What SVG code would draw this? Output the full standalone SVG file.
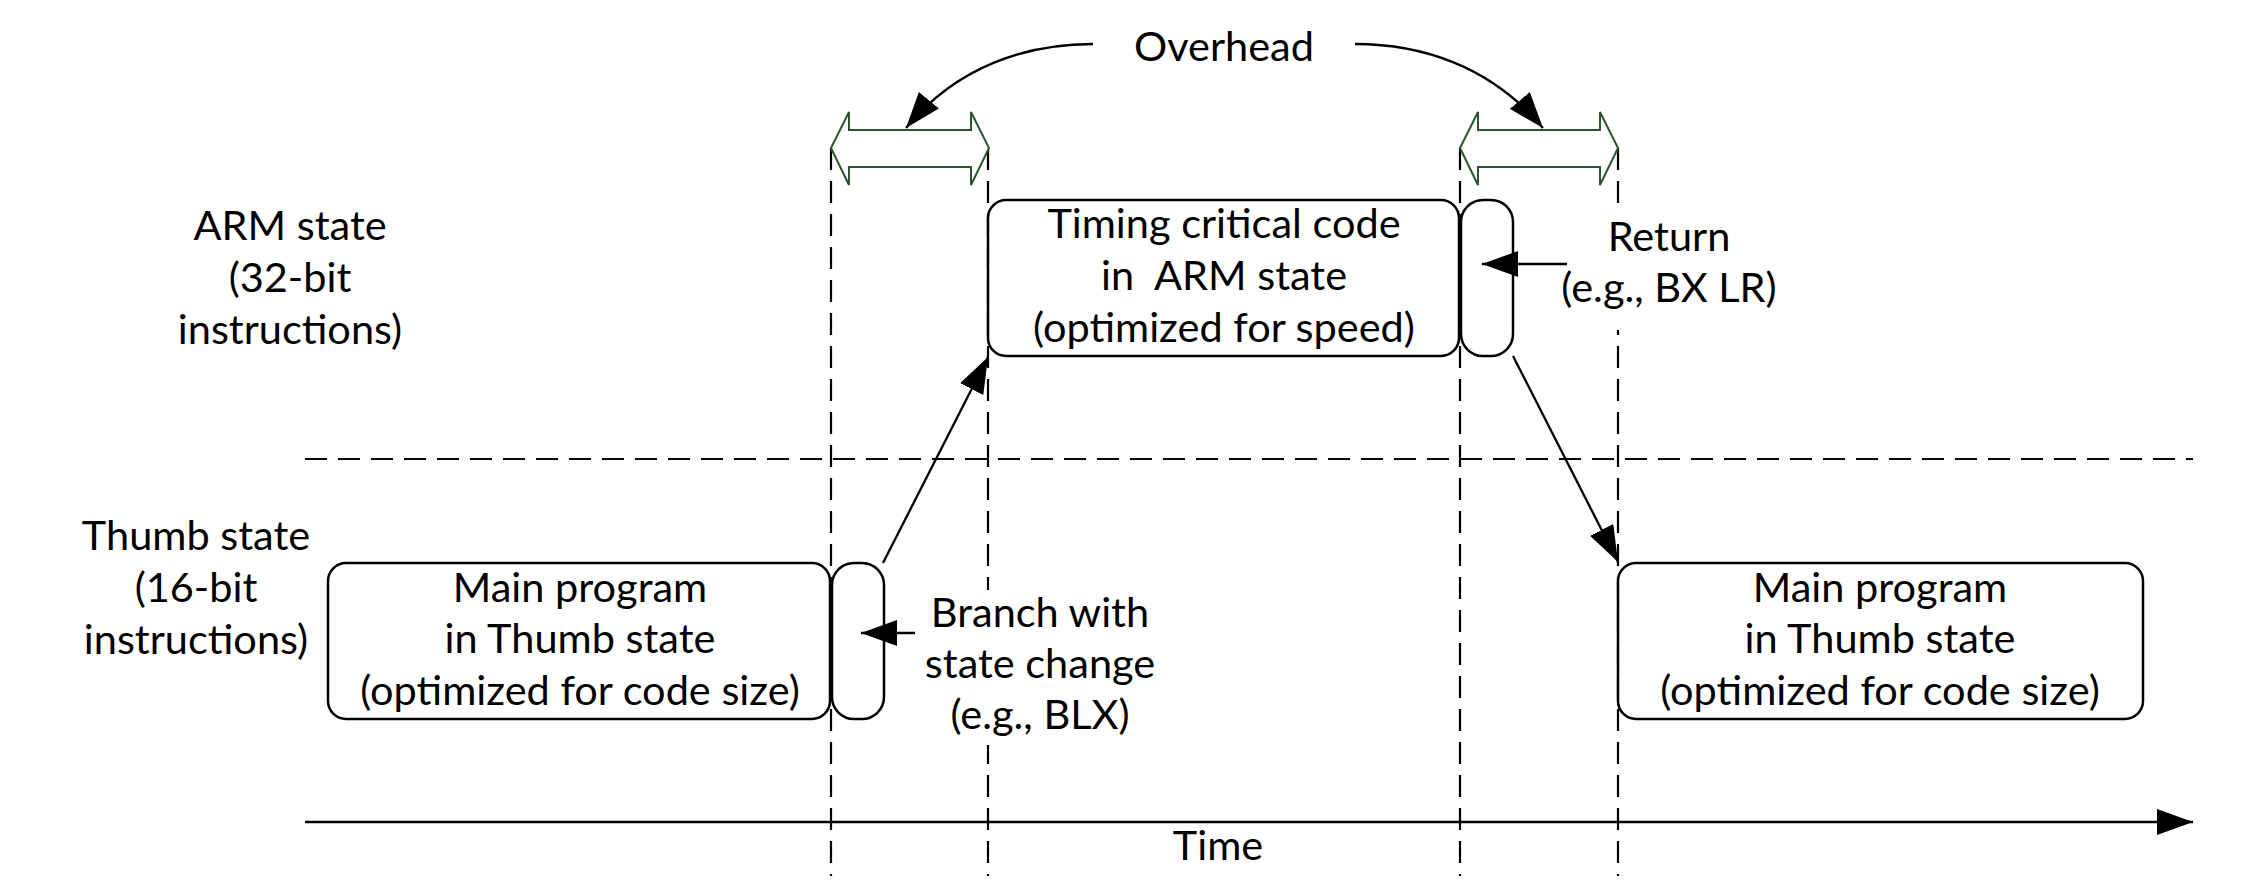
<svg xmlns="http://www.w3.org/2000/svg" width="2266" height="894" viewBox="0 0 2266 894">
<style>
.t{font-family:Lato,"Open Sans","Liberation Sans",sans-serif;font-size:41.5px;fill:#000;text-anchor:middle;white-space:pre}
.box{fill:#fff;stroke:#000;stroke-width:2.5}
.dash{stroke:#000;stroke-width:2.2;stroke-dasharray:22 11;fill:none}
.ln{stroke:#000;stroke-width:2.3;fill:none}
.dbl{fill:#fff;stroke:#2B5530;stroke-width:2}
.bg{fill:#fff}
</style>
<defs>
<marker id="ah" markerUnits="userSpaceOnUse" markerWidth="38" markerHeight="28" refX="36" refY="13" orient="auto">
<path d="M0,0 L36,13 L0,26 z" fill="#000"/>
</marker>
</defs>
<rect width="2266" height="894" fill="#fff"/>

<g id="guides">
<line class="dash" x1="305" y1="459" x2="2193" y2="459"/>
<line class="dash" x1="831" y1="148" x2="831" y2="876"/>
<line class="dash" x1="988" y1="148" x2="988" y2="876"/>
<line class="dash" x1="1460" y1="148" x2="1460" y2="876"/>
<line class="dash" x1="1618" y1="148" x2="1618" y2="876"/>
</g>

<g id="overhead-left">
<polygon class="dbl" points="831,148 849,112 849,130 971,130 971,112 989,148 971,185 971,167 849,167 849,185"/>
</g>
<g id="overhead-right">
<polygon class="dbl" points="1460,148 1478,112 1478,130 1600,130 1600,112 1618,148 1600,185 1600,167 1478,167 1478,185"/>
</g>

<g id="label-overhead">
<text class="t" x="1224" y="61">Overhead</text>
</g>

<g id="label-arm">
<text class="t" x="290" y="240">ARM state</text>
<text class="t" x="290" y="292">(32-bit</text>
<text class="t" x="290" y="344">instructions)</text>
</g>

<g id="label-thumb">
<text class="t" x="196" y="550">Thumb state</text>
<text class="t" x="196" y="602">(16-bit</text>
<text class="t" x="196" y="654">instructions)</text>
</g>

<g id="main-left">
<rect class="box" x="328" y="563" width="502" height="156" rx="18"/>
<text class="t" x="580" y="602">Main program</text>
<text class="t" x="580" y="653">in Thumb state</text>
<text class="t" x="580" y="705">(optimized for code size)</text>
</g>

<g id="branch-box">
<rect class="box" x="832" y="563" width="52" height="156" rx="22"/>
</g>

<g id="timing">
<rect class="box" x="988" y="200" width="471" height="156" rx="18"/>
<text class="t" x="1224" y="238">Timing critical code</text>
<text class="t" x="1224" y="290">in  ARM state</text>
<text class="t" x="1224" y="342">(optimized for speed)</text>
</g>

<g id="return-box">
<rect class="box" x="1461" y="200" width="52" height="156" rx="22"/>
</g>

<g id="main-right">
<rect class="box" x="1618" y="563" width="525" height="156" rx="18"/>
<text class="t" x="1880" y="602">Main program</text>
<text class="t" x="1880" y="653">in Thumb state</text>
<text class="t" x="1880" y="705">(optimized for code size)</text>
</g>

<g id="label-branch">
<rect class="bg" x="925" y="590" width="235" height="155"/>
<text class="t" x="1040" y="627">Branch with</text>
<text class="t" x="1040" y="678">state change</text>
<text class="t" x="1040" y="729">(e.g., BLX)</text>
</g>

<g id="label-return">
<rect class="bg" x="1560" y="203" width="222" height="127"/>
<text class="t" x="1669" y="251">Return</text>
<text class="t" x="1669" y="302">(e.g., BX LR)</text>
</g>

<g id="label-time">
<text class="t" x="1218" y="860">Time</text>
</g>

<g id="connectors">
<line class="ln" x1="305" y1="822" x2="2193" y2="822" stroke-width="2.6" marker-end="url(#ah)"/>
<path class="ln" d="M1093,44 C1028,44 958,65 906,128" marker-end="url(#ah)"/>
<path class="ln" d="M1355,44 C1420,44 1490,65 1543,128" marker-end="url(#ah)"/>
<line class="ln" x1="883" y1="563" x2="988" y2="357" marker-end="url(#ah)"/>
<line class="ln" x1="1513" y1="356" x2="1618" y2="562" marker-end="url(#ah)"/>
<line class="ln" x1="915" y1="633" x2="861" y2="633" marker-end="url(#ah)"/>
<line class="ln" x1="1567" y1="264" x2="1482" y2="264" marker-end="url(#ah)"/>
</g>
</svg>
